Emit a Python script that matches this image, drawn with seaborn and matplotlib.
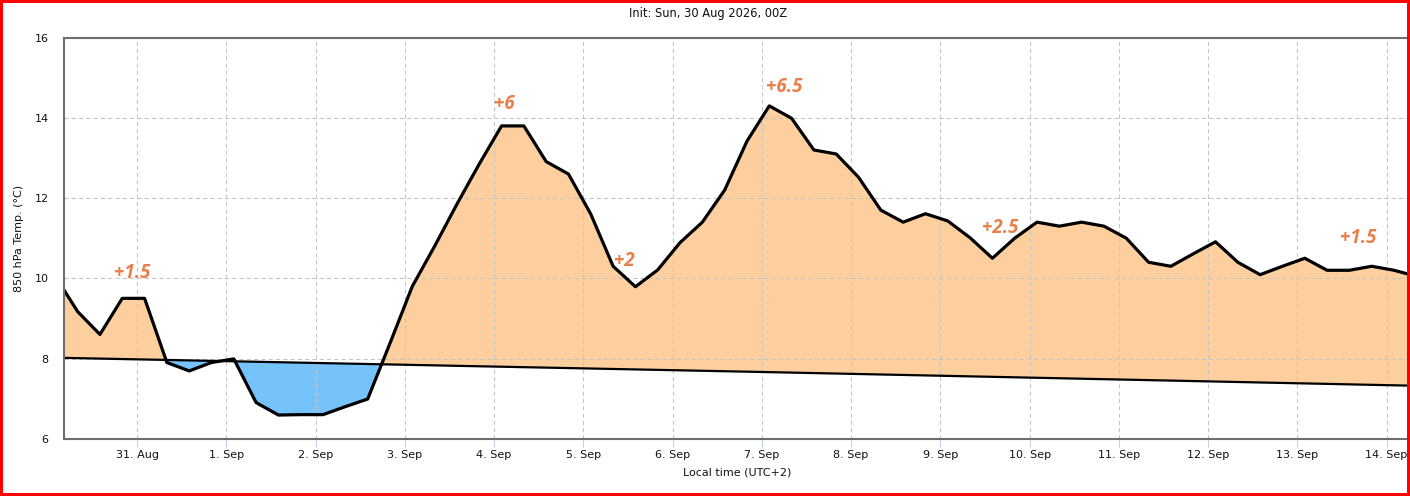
import numpy as np
import pandas as pd
import seaborn as sns
import matplotlib.pyplot as plt
import matplotlib.dates as mdates
from matplotlib.patches import Rectangle

# 850 hPa temperature, 6-hourly from init (local time UTC+2)
run_start = "2026-08-30 02:00"
temp = [10.05, 9.17, 8.60, 9.50,
        9.50, 7.90, 7.69, 7.90,
        7.99, 6.90, 6.59, 6.60,
        6.60, 6.80, 6.99, 8.38,
        9.80, 10.80, 11.85, 12.85,
        13.80, 13.80, 12.91, 12.60,
        11.60, 10.30, 9.79, 10.21,
        10.89, 11.40, 12.20, 13.42,
        14.30, 13.99, 13.20, 13.10,
        12.52, 11.70, 11.40, 11.61,
        11.43, 11.01, 10.50, 11.00,
        11.40, 11.30, 11.40, 11.30,
        11.00, 10.40, 10.30, 10.61,
        10.91, 10.40, 10.09, 10.30,
        10.50, 10.20, 10.20, 10.30,
        10.20, 10.05]

# climatology line
clim_times = ["2026-08-30 02:00", "2026-09-07 02:00", "2026-09-14 08:00"]
clim_vals = [8.02, 7.66, 7.32]

# anomaly labels
anom_labels = ["+1.5", "+6", "+2", "+6.5", "+2.5", "+1.5"]
anom_times = ["2026-08-30 22:40", "2026-09-04 02:40", "2026-09-05 11:05",
              "2026-09-07 05:55", "2026-09-09 16:10", "2026-09-13 16:20"]
anom_vals = [10.12, 14.35, 10.44, 14.77, 11.25, 11.01]

y_ticks = [6, 8, 10, 12, 14, 16]

times = pd.date_range(run_start, periods=len(temp), freq="6h")
df = pd.DataFrame({"time": times, "temp": temp})
clim_t = pd.to_datetime(clim_times)
clim_df = pd.DataFrame({"time": clim_t, "clim": clim_vals})

# climate value under every forecast step (for the shading)
clim_at = np.interp(mdates.date2num(times), mdates.date2num(clim_t), clim_vals)

sns.set_theme(style="white")
plt.rcParams["font.family"] = ["DejaVu Sans"]

fig = plt.figure(figsize=(14.1, 4.96), dpi=100)
ax = fig.add_axes([64 / 1410, 57.3 / 496, 1346 / 1410, 401 / 496])

ax.fill_between(df["time"], df["temp"], clim_at, where=df["temp"].values >= clim_at,
                interpolate=True, color="#fdcf9e", lw=0, zorder=1)
ax.fill_between(df["time"], df["temp"], clim_at, where=df["temp"].values < clim_at,
                interpolate=True, color="#76c3fc", lw=0, zorder=1)

sns.lineplot(data=clim_df, x="time", y="clim", ax=ax, color="black", lw=1.6, zorder=3)
sns.lineplot(data=df, x="time", y="temp", ax=ax, color="black", lw=2.3, zorder=4)

for lab, t, v in zip(anom_labels, anom_times, anom_vals):
    ax.text(mdates.date2num(pd.Timestamp(t)), v, lab, ha="center", va="center",
            fontsize=13.5, fontweight="bold", fontstyle="italic",
            family=["Open Sans", "DejaVu Sans"], color="#e8804c", zorder=5)

ax.set_xlim(pd.Timestamp("2026-08-30 04:20"), pd.Timestamp("2026-09-14 06:18"))
ax.set_ylim(6, 16)
ax.set_yticks(y_ticks)
ax.xaxis.set_major_locator(mdates.DayLocator())
ax.xaxis.set_major_formatter(plt.FuncFormatter(
    lambda x, pos: f"{mdates.num2date(x).day}. {mdates.num2date(x).strftime('%b')}"))

ax.set_axisbelow(False)
ax.grid(True, color="#c4c4c4", ls=(0, (4, 3)), lw=0.75, zorder=2)

ax.tick_params(axis="x", length=6, width=0.8, color="#c0d0e0", pad=2,
               labelsize=8, labelcolor="#111111", bottom=True)
ax.tick_params(axis="y", length=0, pad=11, labelsize=8, labelcolor="#111111", left=True)

for side in ["left", "bottom", "top"]:
    ax.spines[side].set_color("#6e6e6e")
    ax.spines[side].set_linewidth(1.5)
    ax.spines[side].set_zorder(6)
ax.spines["right"].set_visible(False)

ax.set_xlabel("Local time (UTC+2)", fontsize=8, color="#111111")
ax.set_ylabel("850 hPa Temp. (°C)", fontsize=8, color="#111111")
ax.xaxis.set_label_coords(0.5, -0.072)
ax.yaxis.set_label_coords(-0.030, 0.5)

fig.text(0.5 * 1416 / 1410, 1 - 13 / 496, "Init: Sun, 30 Aug 2026, 00Z",
         ha="center", va="center", fontsize=8.3, color="#111111")

fig.add_artist(Rectangle((0, 0), 1, 1, transform=fig.transFigure, fill=False,
                         edgecolor="red", lw=4.3, zorder=10))

fig.savefig("out.png", dpi=100)
